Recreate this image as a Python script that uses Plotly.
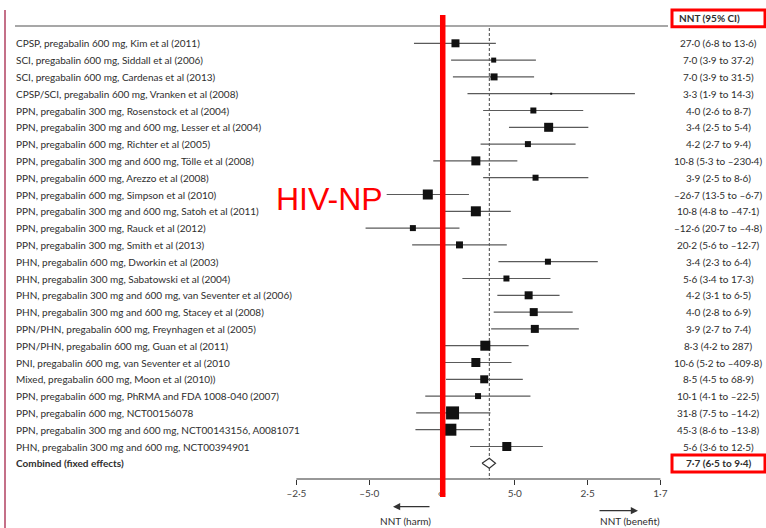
import plotly.graph_objects as go

# ---------------- data ----------------
studies = [
    "CPSP, pregabalin 600 mg, Kim et al (2011)",
    "SCI, pregabalin 600 mg, Siddall et al (2006)",
    "SCI, pregabalin 600 mg, Cardenas et al (2013)",
    "CPSP/SCI, pregabalin 600 mg, Vranken et al (2008)",
    "PPN, pregabalin 300 mg, Rosenstock et al (2004)",
    "PPN, pregabalin 300 mg and 600 mg, Lesser et al (2004)",
    "PPN, pregabalin 600 mg, Richter et al (2005)",
    "PPN, pregabalin 300 mg and 600 mg, Tölle et al (2008)",
    "PPN, pregabalin 600 mg, Arezzo et al (2008)",
    "PPN, pregabalin 600 mg, Simpson et al (2010)",
    "PPN, pregabalin 300 mg and 600 mg, Satoh et al (2011)",
    "PPN, pregabalin 300 mg, Rauck et al (2012)",
    "PPN, pregabalin 300 mg, Smith et al (2013)",
    "PHN, pregabalin 600 mg, Dworkin et al (2003)",
    "PHN, pregabalin 300 mg, Sabatowski et al (2004)",
    "PHN, pregabalin 300 mg and 600 mg, van Seventer et al (2006)",
    "PHN, pregabalin 300 mg and 600 mg, Stacey et al (2008)",
    "PPN/PHN, pregabalin 600 mg, Freynhagen et al (2005)",
    "PPN/PHN, pregabalin 600 mg, Guan et al (2011)",
    "PNI, pregabalin 600 mg, van Seventer et al (2010",
    "Mixed, pregabalin 600 mg, Moon et al (2010))",
    "PPN, pregabalin 600 mg, PhRMA and FDA 1008-040 (2007)",
    "PPN, pregabalin 600 mg, NCT00156078",
    "PPN, pregabalin 300 mg and 600 mg, NCT00143156, A0081071",
    "PHN, pregabalin 300 mg and 600 mg, NCT00394901",
]
combined_label = "Combined (fixed effects)"

nnt_text = [
    "27·0 (6·8 to 13·6)", "7·0 (3·9 to 37·2)", "7·0 (3·9 to 31·5)", "3·3 (1·9 to 14·3)",
    "4·0 (2·6 to 8·7)", "3·4 (2·5 to 5·4)", "4·2 (2·7 to 9·4)", "10·8 (5·3 to –230·4)",
    "3·9 (2·5 to 8·6)", "–26·7 (13·5 to –6·7)", "10·8 (4·8 to –47·1)", "–12·6 (20·7 to –4·8)",
    "20·2 (5·6 to –12·7)", "3·4 (2·3 to 6·4)", "5·6 (3·4 to 17·3)", "4·2 (3·1 to 6·5)",
    "4·0 (2·8 to 6·9)", "3·9 (2·7 to 7·4)", "8·3 (4·2 to 287)", "10·6 (5·2 to –409·8)",
    "8·5 (4·5 to 68·9)", "10·1 (4·1 to –22·5)", "31·8 (7·5 to –14·2)", "45·3 (8·6 to –13·8)",
    "5·6 (3·6 to 12·5)",
]
combined_text = "7·7 (6·5 to 9·4)"

# effect (risk difference = 1/NNT) and 95% CI, as drawn
effect = [0.037, 0.142, 0.143, 0.300, 0.251, 0.293, 0.236, 0.093, 0.257, -0.039,
          0.093, -0.080, 0.048, 0.291, 0.177, 0.238, 0.252, 0.255, 0.119, 0.093,
          0.116, 0.099, 0.029, 0.023, 0.178]
ci_low = [-0.077, 0.025, 0.030, 0.070, 0.113, 0.184, 0.106, -0.024, 0.113, -0.152,
          -0.005, -0.210, -0.082, 0.155, 0.056, 0.152, 0.142, 0.135, 0.007, -0.001,
          0.011, -0.046, -0.071, -0.073, 0.077]
ci_high = [0.148, 0.258, 0.253, 0.530, 0.388, 0.402, 0.367, 0.207, 0.402, 0.074,
           0.189, 0.048, 0.178, 0.428, 0.298, 0.323, 0.359, 0.376, 0.238, 0.191,
           0.222, 0.243, 0.133, 0.115, 0.277]
weight_px = [8, 5, 7, 2, 6, 9, 6, 9, 6, 10, 10, 6, 7, 6, 6, 8, 8, 8, 10, 9, 8, 6, 13, 12, 9]

combined_effect = 0.130
combined_low = 0.110
combined_high = 0.147

tick_vals = [-0.4, -0.2, 0.0, 0.2, 0.4, 0.6]
tick_text = ["–2·5", "–5·0", "∞", "5·0", "2·5", "1·7"]

# ---------------- figure ----------------
W, H = 766, 528
PX_ZERO, PX_PER_UNIT = 442.0, 364.0
ROW0_PX, ROW_PX = 43.3, 16.8


def xd(px):
    return (px - PX_ZERO) / PX_PER_UNIT


def yr(px):
    return (px - ROW0_PX) / ROW_PX


rows = list(range(len(studies)))
comb_row = len(studies)

TXT = "#2e2e2e"
FONT = "Lato"

fig = go.Figure()

# CI lines
fig.add_trace(go.Scatter(
    x=effect, y=rows, mode="lines",
    line=dict(width=0), showlegend=False, hoverinfo="skip",
    error_x=dict(type="data", symmetric=False,
                 array=[h - e for h, e in zip(ci_high, effect)],
                 arrayminus=[e - l for l, e in zip(ci_low, effect)],
                 color="#5a5a5a", thickness=1.2, width=0),
))
# weight squares on top
fig.add_trace(go.Scatter(
    x=effect, y=rows, mode="markers",
    marker=dict(symbol="square", size=weight_px, color="#111111", opacity=1,
                line=dict(width=0)),
    showlegend=False, hoverinfo="skip",
))

# combined diamond
dh = 0.3
fig.add_trace(go.Scatter(
    x=[combined_low, combined_effect, combined_high, combined_effect, combined_low],
    y=[comb_row, comb_row - dh, comb_row, comb_row + dh, comb_row],
    mode="lines", fill="toself", fillcolor="white",
    line=dict(color="#333333", width=1.2), showlegend=False, hoverinfo="skip",
))

shapes = []
# top rule
shapes.append(dict(type="line", x0=xd(15), x1=xd(668), y0=yr(26), y1=yr(26),
                   line=dict(color="#8a8a8a", width=1.5)))
# axis line
shapes.append(dict(type="line", x0=tick_vals[0], x1=tick_vals[-1], y0=yr(479), y1=yr(479),
                   line=dict(color="#333333", width=1.2)))
# dashed combined line
shapes.append(dict(type="line", x0=combined_effect, x1=combined_effect, y0=yr(28), y1=yr(479),
                   line=dict(color="#444444", width=1, dash="3px,2px"), layer="below"))
# left thin line
shapes.append(dict(type="line", x0=xd(5), x1=xd(5), y0=yr(10), y1=yr(528),
                   line=dict(color="#b04060", width=1.5)))
# red vertical line at no effect
shapes.append(dict(type="line", x0=0.002, x1=0.002, y0=yr(15), y1=yr(497),
                   line=dict(color="#ff0000", width=5.5)))
# red boxes
shapes.append(dict(type="rect", x0=xd(672), x1=xd(765), y0=yr(10), y1=yr(26.7),
                   line=dict(color="#ff0000", width=3)))
shapes.append(dict(type="rect", x0=xd(672), x1=xd(765), y0=yr(455), y1=yr(472),
                   line=dict(color="#ff0000", width=3)))

annotations = []
for i, s in enumerate(studies):
    annotations.append(dict(x=xd(14), y=i, text=s, xanchor="left", yanchor="middle",
                            showarrow=False, font=dict(family=FONT, size=10, color=TXT)))
    annotations.append(dict(x=xd(718), y=i, text=nnt_text[i], xanchor="center", yanchor="middle",
                            showarrow=False, font=dict(family=FONT, size=10, color=TXT)))
annotations.append(dict(x=xd(14), y=comb_row, text="<b>" + combined_label + "</b>", xanchor="left",
                        yanchor="middle", showarrow=False, font=dict(family=FONT, size=10, color=TXT)))
annotations.append(dict(x=xd(718), y=comb_row, text="<b>" + combined_text + "</b>", xanchor="center",
                        yanchor="middle", showarrow=False, font=dict(family=FONT, size=10, color=TXT)))
annotations.append(dict(x=xd(677), y=yr(18), text="<b>NNT (95% CI)</b>", xanchor="left",
                        yanchor="middle", showarrow=False, font=dict(family=FONT, size=10, color=TXT)))
# HIV-NP
annotations.append(dict(x=xd(329), y=yr(199), text="HIV-NP", xanchor="center", yanchor="middle",
                        showarrow=False, font=dict(family="Liberation Sans", size=32, color="#ff0000")))
# arrows
annotations.append(dict(x=xd(393), y=yr(506.7), ax=xd(431), ay=yr(506.7), axref="x", ayref="y",
                        xref="x", yref="y", text="", showarrow=True, arrowhead=2, arrowsize=1.2,
                        arrowwidth=1.2, arrowcolor="#333333"))
annotations.append(dict(x=xd(638), y=yr(510.7), ax=xd(598), ay=yr(510.7), axref="x", ayref="y",
                        xref="x", yref="y", text="", showarrow=True, arrowhead=2, arrowsize=1.2,
                        arrowwidth=1.2, arrowcolor="#333333"))
annotations.append(dict(x=xd(405), y=yr(521), text="NNT (harm)", xanchor="center", yanchor="middle",
                        showarrow=False, font=dict(family=FONT, size=10, color=TXT)))
annotations.append(dict(x=xd(630), y=yr(521), text="NNT (benefit)", xanchor="center", yanchor="middle",
                        showarrow=False, font=dict(family=FONT, size=10, color=TXT)))

fig.update_layout(
    width=W, height=H, margin=dict(l=0, r=0, t=0, b=0),
    paper_bgcolor="white", plot_bgcolor="white",
    shapes=shapes, annotations=annotations, showlegend=False,
    xaxis=dict(range=[xd(0), xd(W)], showgrid=False, zeroline=False, showline=False,
               tickvals=tick_vals, ticktext=tick_text, ticks="outside", ticklen=5,
               tickcolor="#333333", tickwidth=1.2,
               tickfont=dict(family=FONT, size=10, color="#444444"),
               anchor="free", position=(H - 479) / H, fixedrange=True),
    yaxis=dict(range=[yr(H), yr(0)], visible=False, showgrid=False, zeroline=False,
               fixedrange=True),
)

fig.write_html("out.html")
